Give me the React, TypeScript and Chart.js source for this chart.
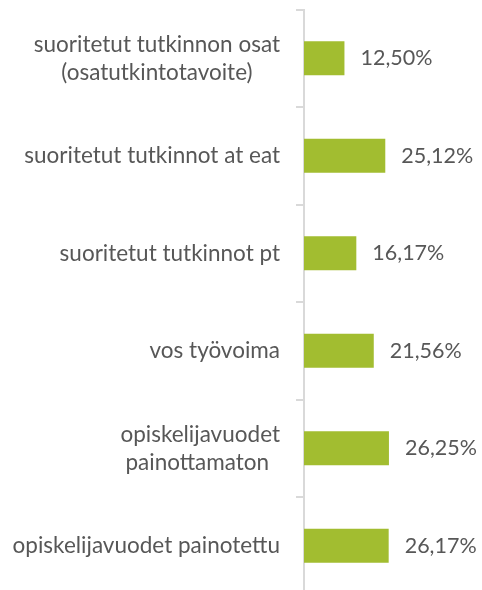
import React, { useEffect, useRef } from "react";
import { Chart, registerables } from "chart.js";

Chart.register(...registerables);

const categories: (string | string[])[] = [
  ["suoritetut tutkinnon osat", "(osatutkintotavoite)"],
  "suoritetut tutkinnot at eat",
  "suoritetut tutkinnot pt",
  "vos työvoima",
  ["opiskelijavuodet", "painottamaton "],
  "opiskelijavuodet painotettu",
];
const values = [12.5, 25.12, 16.17, 21.56, 26.25, 26.17];
const valueLabels = ["12,50%", "25,12%", "16,17%", "21,56%", "26,25%", "26,17%"];

const FONT = "Lato, 'Open Sans', sans-serif";
const TEXT = "#575757";
const BAR = "#A2BD30";

export default function App() {
  const ref = useRef<HTMLCanvasElement | null>(null);
  useEffect(() => {
    document.body.style.margin = "0";
    const labelPlugin = {
      id: "customLabels",
      afterDraw(chart: any) {
        const ctx = chart.ctx;
        const y = chart.scales.y;
        const x = chart.scales.x;
        ctx.save();
        ctx.font = `22.5px ${FONT}`;
        ctx.fillStyle = TEXT;
        ctx.textBaseline = "middle";
        const right = chart.chartArea.left - 24;
        const lh = 28;
        categories.forEach((c, i) => {
          const lines = Array.isArray(c) ? c : [c];
          const w = Math.max(...lines.map((l) => ctx.measureText(l).width));
          const cx = right - w / 2;
          const cy = y.getPixelForValue(i);
          ctx.textAlign = "center";
          lines.forEach((l, k) => {
            ctx.fillText(l, cx, cy + (k - (lines.length - 1) / 2) * lh);
          });
        });
        ctx.font = `21.5px ${FONT}`;
        ctx.textAlign = "left";
        values.forEach((v, i) => {
          ctx.fillText(valueLabels[i], x.getPixelForValue(v) + 16, y.getPixelForValue(i));
        });
        ctx.restore();
      },
    };
    const chart = new Chart(ref.current!, {
      type: "bar",
      data: {
        labels: categories as any,
        datasets: [
          {
            data: values,
            backgroundColor: BAR,
            borderWidth: 0,
            barPercentage: 0.35,
            categoryPercentage: 1,
          },
        ],
      },
      options: {
        indexAxis: "y",
        animation: false,
        responsive: false,
        maintainAspectRatio: false,
        layout: { padding: { top: 9.5, bottom: 5.5, right: 12, left: 0 } },
        plugins: { legend: { display: false }, tooltip: { enabled: false } },
        scales: {
          x: { display: false, min: 0, max: 51.3 },
          y: {
            ticks: { display: false },
            grid: {
              drawOnChartArea: false,
              drawTicks: true,
              tickLength: 8,
              color: "#D9D9D9",
              lineWidth: 2,
              offset: true,
            },
            border: { display: true, color: "#D9D9D9", width: 2 },
            afterFit(scale: any) {
              scale.width = 304;
            },
          },
        },
      },
      plugins: [labelPlugin],
    });
    return () => chart.destroy();
  }, []);
  return (
    <div style={{ position: "absolute", left: 0, top: 0, width: 482, height: 600 }}>
      <canvas ref={ref} width={482} height={600} />
    </div>
  );
}
